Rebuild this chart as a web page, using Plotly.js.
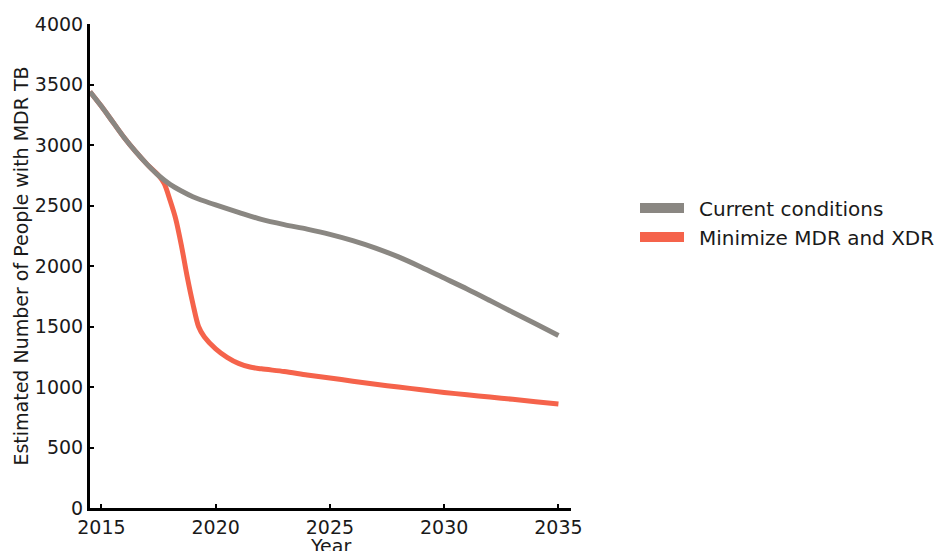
<!DOCTYPE html>
<html>
<head>
<meta charset="utf-8">
<script src="https://cdn.plot.ly/plotly-3.0.1.min.js"></script>
<style>html,body{margin:0;padding:0;background:#fff;}#chart{width:937px;height:551px;}</style>
</head>
<body>
<div id="chart"></div>
<script>
const currentYears = [2014.5, 2015, 2015.5, 2016, 2016.5, 2017, 2017.5, 2018, 2018.5, 2019, 2019.5, 2020, 2021, 2022, 2023, 2024, 2025, 2026, 2027, 2028, 2029, 2030, 2031, 2032, 2033, 2034, 2035];
const currentValues = [3440, 3320, 3190, 3060, 2945, 2840, 2748, 2675, 2620, 2573, 2537, 2505, 2444, 2385, 2342, 2305, 2262, 2210, 2148, 2075, 1990, 1900, 1810, 1715, 1618, 1522, 1425];

const minimizeYears = [2014.5, 2015, 2015.5, 2016, 2016.5, 2017, 2017.5, 2017.75, 2018, 2018.25, 2018.5, 2018.75, 2019, 2019.25, 2019.5, 2020, 2020.5, 2021, 2021.5, 2022, 2023, 2024, 2025, 2026, 2027, 2028, 2029, 2030, 2031, 2032, 2033, 2034, 2035];
const minimizeValues = [3440, 3320, 3190, 3060, 2945, 2840, 2748, 2680, 2545, 2390, 2170, 1915, 1690, 1500, 1415, 1315, 1245, 1195, 1165, 1150, 1128, 1100, 1075, 1048, 1022, 1000, 977, 955, 936, 917, 898, 879, 860];

const seriesNames = ["Current conditions", "Minimize MDR and XDR"];
const seriesColors = ["#8a8782", "#f5634b"];
const xTicks = [2015, 2020, 2025, 2030, 2035];
const yTicks = [0, 500, 1000, 1500, 2000, 2500, 3000, 3500, 4000];
const xTitle = "Year";
const yTitle = "Estimated Number of People with MDR TB";

const data = [
  {x: minimizeYears, y: minimizeValues, mode: "lines", line: {color: seriesColors[1], width: 5, shape: "spline", smoothing: 0.8}, showlegend: false, hoverinfo: "skip"},
  {x: currentYears, y: currentValues, mode: "lines", line: {color: seriesColors[0], width: 5, shape: "spline", smoothing: 0.8}, showlegend: false, hoverinfo: "skip"},
  {x: [null], y: [null], mode: "lines", name: "\u2002" + seriesNames[0], line: {color: seriesColors[0], width: 15}},
  {x: [null], y: [null], mode: "lines", name: "\u2002" + seriesNames[1], line: {color: seriesColors[1], width: 15}}
];

const font = {family: "DejaVu Sans", size: 19, color: "#1a1a1a"};
const legendFont = {family: "DejaVu Sans", size: 20, color: "#1a1a1a"};
const layout = {
  width: 937, height: 551,
  margin: {l: 90, r: 366, t: 24, b: 43},
  paper_bgcolor: "#fff", plot_bgcolor: "#fff",
  font: font,
  showlegend: true,
  legend: {xref: "container", yref: "container", x: 0.6777, y: 0.596, xanchor: "left", yanchor: "middle", font: legendFont, itemwidth: 44, traceorder: "normal", bgcolor: "rgba(0,0,0,0)"},
  xaxis: {
    range: [2014.5, 2035.55], tickvals: xTicks, ticktext: xTicks.map(String),
    ticks: "inside", ticklen: 4, tickwidth: 2, tickcolor: "#000",
    showline: true, linecolor: "#000", linewidth: 3, showgrid: false, zeroline: false,
    tickfont: font
  },
  yaxis: {
    range: [0, 4000], tickvals: yTicks, ticktext: yTicks.map(String),
    ticks: "inside", ticklen: 4, tickwidth: 2, tickcolor: "#000",
    showline: true, linecolor: "#000", linewidth: 3, showgrid: false, zeroline: false,
    tickfont: font, title: {text: yTitle, font: font, standoff: 2}
  },
  annotations: [
    {text: xTitle, xref: "paper", yref: "paper", x: 0.5, y: -0.051, xanchor: "center", yanchor: "top", showarrow: false, font: font}
  ]
};
Plotly.newPlot("chart", data, layout, {staticPlot: true, displayModeBar: false});
</script>
</body>
</html>
